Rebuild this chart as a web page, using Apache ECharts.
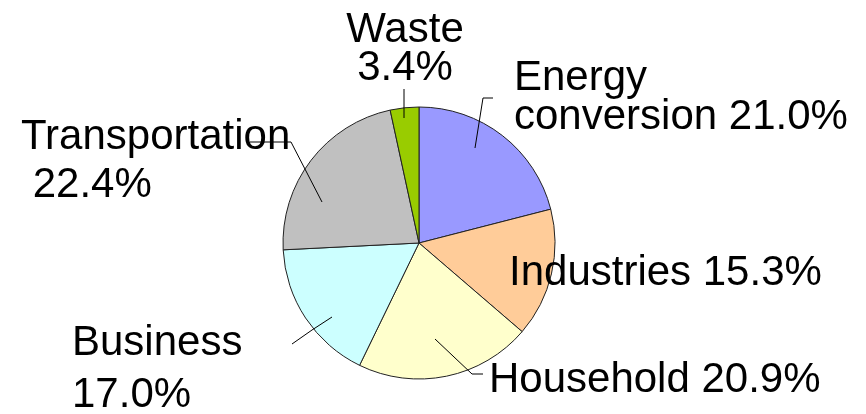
<!DOCTYPE html>
<html>
<head>
<meta charset="utf-8">
<script src="https://cdn.jsdelivr.net/npm/echarts@6/dist/echarts.min.js"></script>
<style>
html,body{margin:0;padding:0;background:#fff;}
#chart{width:866px;height:414px;}
</style>
</head>
<body>
<div id="chart"></div>
<script>
// ---- data ----
var categories = ['Energy conversion', 'Industries', 'Household', 'Business', 'Transportation', 'Waste'];
var shares = [21.0, 15.3, 20.9, 17.0, 22.4, 3.4];
var colors = ['#9999ff', '#ffcc99', '#ffffcc', '#ccffff', '#c0c0c0', '#99cc00'];

// ---- label layout (annotation placement only) ----
var labelCfg = {
  'Energy conversion': {fmt: function (n, p) { return n.replace(' ', '\n') + ' ' + p; }, x: 514, y: 98, align: 'left', lh: 39,
    line: [[475, 148], [483, 98], [493, 98]]},
  'Industries': {fmt: function (n, p) { return n + ' ' + p; }, x: 509, y: 273, align: 'left', lh: 42, line: null},
  'Household': {fmt: function (n, p) { return n + ' ' + p; }, x: 489, y: 380, align: 'left', lh: 42,
    line: [[435, 339], [472, 374], [483, 374]]},
  'Business': {fmt: function (n, p) { return n + '\n' + p; }, x: 72, y: 369, align: 'left', lh: 52,
    line: [[332, 317], [312, 330], [292, 344]]},
  'Transportation': {fmt: function (n, p) { return n + '\n ' + p; }, x: 21, y: 161, align: 'left', lh: 48,
    line: [[322, 202], [291, 142], [250, 142]]},
  'Waste': {fmt: function (n, p) { return n + '\n' + p; }, x: 405, y: 49, align: 'center', lh: 38,
    line: [[404, 118], [404, 104], [404, 89]]}
};

var sliceData = categories.map(function (name, i) {
  return {name: name, value: shares[i], itemStyle: {color: colors[i]}};
});

var labelData = categories.map(function (name, i) {
  var cfg = labelCfg[name];
  return {
    name: name,
    value: shares[i],
    label: {lineHeight: cfg.lh, align: cfg.align},
    labelLine: {show: !!cfg.line}
  };
});

var common = {
  type: 'pie',
  center: [419, 243],
  radius: 136,
  startAngle: 90,
  clockwise: true,
  silent: true,
  animation: false
};

var chart = echarts.init(document.getElementById('chart'), null, {renderer: 'canvas'});
chart.setOption({
  backgroundColor: '#ffffff',
  animation: false,
  series: [
    Object.assign({}, common, {
      z: 2,
      data: sliceData,
      itemStyle: {borderColor: '#222', borderWidth: 1},
      label: {show: false},
      labelLine: {show: false}
    }),
    Object.assign({}, common, {
      z: 5,
      data: labelData,
      itemStyle: {color: 'rgba(0,0,0,0)', borderWidth: 0},
      label: {
        show: true,
        position: 'outside',
        overflow: 'none',
        color: '#000',
        fontFamily: 'Liberation Sans, Arial, sans-serif',
        fontSize: 42,
        formatter: function (p) {
          return labelCfg[p.name].fmt(p.name, p.value.toFixed(1) + '%');
        }
      },
      labelLine: {show: true, lineStyle: {color: '#000', width: 1}, length: 10, length2: 10},
      labelLayout: function (params) {
        var name = categories[params.dataIndex];
        var cfg = labelCfg[name];
        var out = {x: cfg.x, y: cfg.y, align: cfg.align, verticalAlign: 'middle'};
        if (cfg.line) out.labelLinePoints = cfg.line;
        return out;
      }
    })
  ]
});
</script>
</body>
</html>
